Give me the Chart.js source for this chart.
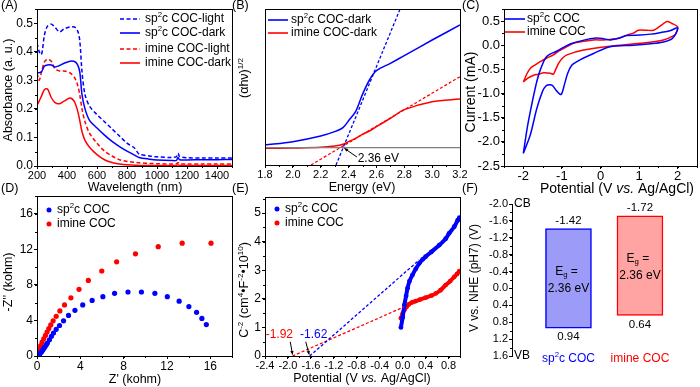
<!DOCTYPE html>
<html>
<head>
<meta charset="utf-8">
<script src="https://cdn.jsdelivr.net/npm/chart.js@4.4.0/dist/chart.umd.min.js"></script>
<style>
html, body { margin: 0; padding: 0; background: #fff; }
#wrap { position: relative; width: 700px; height: 387px; overflow: hidden; }
canvas { position: absolute; }
</style>
</head>
<body>
<div id="wrap">
  <canvas id="cA"></canvas>
  <canvas id="cB"></canvas>
  <canvas id="cC"></canvas>
  <canvas id="cD"></canvas>
  <canvas id="cE"></canvas>
  <canvas id="cF"></canvas>
</div>
<script>
const FF = '"Liberation Sans", Arial, Helvetica, sans-serif';
const BLUE = '#0000ff', RED = '#ff0000';

// (A) UV-vis absorbance
const uvWl =       [200, 215, 230, 250, 270, 295, 320, 350, 380, 420, 450, 470, 485, 500, 520, 550, 600, 650, 700, 750, 800, 850, 880, 950, 1000, 1100, 1130, 1140, 1150, 1200, 1300, 1400, 1500];
const uvSpLight =  [0.43, 0.40, 0.39, 0.46, 0.49, 0.497, 0.486, 0.47, 0.48, 0.487, 0.487, 0.475, 0.44, 0.33, 0.25, 0.21, 0.18, 0.155, 0.13, 0.105, 0.08, 0.063, 0.042, 0.035, 0.032, 0.03, 0.033, 0.045, 0.034, 0.029, 0.028, 0.028, 0.028];
const uvSpDark =   [0.327, 0.327, 0.33, 0.35, 0.354, 0.354, 0.347, 0.352, 0.36, 0.367, 0.366, 0.355, 0.33, 0.25, 0.2, 0.16, 0.133, 0.108, 0.086, 0.068, 0.052, 0.038, 0.03, 0.024, 0.021, 0.019, 0.02, 0.03, 0.022, 0.021, 0.022, 0.022, 0.023];
const uvImLight =  [0.325, 0.30, 0.33, 0.365, 0.374, 0.367, 0.34, 0.333, 0.333, 0.326, 0.31, 0.285, 0.25, 0.2, 0.155, 0.115, 0.08, 0.052, 0.035, 0.022, 0.016, 0.013, 0.011, 0.009, 0.008, 0.007, 0.008, 0.012, 0.008, 0.007, 0.007, 0.007, 0.007];
const uvImDark =   [0.213, 0.228, 0.245, 0.268, 0.27, 0.24, 0.222, 0.218, 0.227, 0.238, 0.225, 0.195, 0.16, 0.12, 0.09, 0.066, 0.04, 0.022, 0.012, 0.007, 0.004, 0.003, 0.002, 0.002, 0.002, 0.002, 0.002, 0.004, 0.002, 0.002, 0.002, 0.002, 0.002];
const uvXTicks = [200, 400, 600, 800, 1000, 1200, 1400];
const uvYTicks = [0, 0.1, 0.2, 0.3, 0.4, 0.5];

// (B) Tauc plot
const taucE =  [1.8, 2.0, 2.2, 2.3, 2.36, 2.4, 2.45, 2.5, 2.55, 2.6, 2.7, 2.8, 3.0, 3.2];
const taucSp = [0.6, 0.7, 0.87, 1.0, 1.12, 1.33, 1.6, 2.12, 2.55, 2.83, 3.05, 3.28, 3.75, 4.2];
const taucIm = [0.5, 0.51, 0.53, 0.57, 0.62, 0.7, 0.8, 0.92, 1.02, 1.15, 1.4, 1.66, 1.9, 1.98];
const taucSpFitE = [2.31, 2.77], taucSpFitY = [0, 4.68];
const taucImFitE = [2.13, 3.2], taucImFitY = [0, 2.65];
const taucBaseE = [1.8, 3.2], taucBaseY = [0.52, 0.52];
const taucXTicks = [1.8, 2.0, 2.2, 2.4, 2.6, 2.8, 3.0, 3.2];

// (C) cyclic voltammetry
const cvSpV = [-2.0, -1.9, -1.8, -1.73, -1.65, -1.56, -1.43, -1.32, -1.15, -1.04, -0.8, -0.61, -0.35, -0.12, 0.05, 0.25, 0.45, 0.68, 1.03, 1.3, 1.54, 1.8, 2.0, 1.96, 1.85, 1.6, 1.3, 0.85, 0.25, -0.18, -0.45, -0.61, -0.74, -0.85, -0.93, -1.02, -1.13, -1.25, -1.34, -1.42, -1.5, -1.65, -1.82, -2.0];
const cvSpI = [-2.24, -1.72, -1.3, -1.03, -0.75, -0.51, -0.27, -0.19, -0.13, -0.08, 0.02, 0.07, 0.12, 0.15, 0.14, 0.11, 0.14, 0.2, 0.21, 0.23, 0.26, 0.3, 0.36, 0.25, 0.13, 0.06, 0.03, 0.0, -0.03, -0.17, -0.27, -0.34, -0.41, -0.58, -0.8, -1.02, -0.95, -0.83, -0.82, -0.85, -0.95, -1.31, -1.86, -2.24];
const cvImV = [-2.0, -1.9, -1.82, -1.7, -1.56, -1.4, -1.22, -1.1, -0.96, -0.7, -0.45, -0.18, 0.05, 0.25, 0.5, 0.68, 0.85, 0.98, 1.2, 1.37, 1.55, 1.72, 1.85, 2.0, 1.96, 1.92, 1.63, 1.03, 0.25, -0.44, -0.87, -1.0, -1.09, -1.17, -1.22, -1.3, -1.47, -1.6, -1.73, -1.88, -2.0];
const cvImI = [-0.76, -0.58, -0.48, -0.41, -0.34, -0.27, -0.2, -0.13, -0.07, 0.04, 0.08, 0.11, 0.11, 0.12, 0.15, 0.21, 0.25, 0.31, 0.31, 0.31, 0.4, 0.49, 0.45, 0.38, 0.26, 0.21, 0.11, 0.04, -0.02, -0.1, -0.2, -0.28, -0.38, -0.52, -0.6, -0.58, -0.57, -0.6, -0.62, -0.68, -0.76];
const cvXTicks = [-2, -1, 0, 1, 2];
const cvYTicks = [-2.5, -2.0, -1.5, -1.0, -0.5, 0.0, 0.5];

// (D) Nyquist plot
const nySpX = [15.63, 15.22, 14.73, 14.02, 13.12, 12.03, 10.88, 9.64, 8.40, 7.16, 6.08, 5.09, 4.22, 3.50, 2.91, 2.45, 2.08, 1.77, 1.52, 1.33, 1.15, 0.96, 0.86, 0.75, 0.64, 0.54, 0.44, 0.35, 0.26, 0.18, 0.11];
const nySpY = [3.54, 4.23, 4.91, 5.56, 6.17, 6.67, 7.05, 7.2, 7.2, 7.05, 6.67, 6.25, 5.75, 5.14, 4.57, 3.96, 3.43, 3.0, 2.59, 2.21, 1.83, 1.45, 1.26, 1.07, 0.88, 0.69, 0.52, 0.38, 0.24, 0.11, 0.02];
const nyImX = [16.06, 13.40, 11.19, 9.09, 7.35, 5.98, 4.74, 3.88, 3.13, 2.54, 2.11, 1.77, 1.49, 1.27, 1.09, 0.93, 0.78, 0.62, 0.47, 0.34, 0.22, 0.12, 0.06];
const nyImY = [12.69, 12.69, 12.30, 11.50, 10.59, 9.56, 8.50, 7.50, 6.55, 5.75, 5.07, 4.46, 3.96, 3.50, 3.09, 2.70, 2.32, 1.94, 1.56, 1.18, 0.80, 0.42, 0.11];
const nyTicks = [0, 4, 8, 12, 16];

// (E) Mott-Schottky
const msSpV = [-0.03, 0.0, 0.03, 0.06, 0.085, 0.12, 0.17, 0.23, 0.29, 0.35, 0.4, 0.5, 0.64, 0.75, 0.81, 0.9, 0.96, 0.99];
const msSpC = [1.0, 1.35, 1.78, 2.1, 2.37, 2.62, 2.83, 3.05, 3.24, 3.38, 3.47, 3.64, 3.88, 4.1, 4.29, 4.52, 4.75, 4.84];
const msImV = [-0.03, 0.0, 0.03, 0.07, 0.11, 0.17, 0.23, 0.3, 0.4, 0.5, 0.58, 0.66, 0.75, 0.83, 0.9, 0.95, 0.99];
const msImC = [1.32, 1.48, 1.61, 1.72, 1.81, 1.88, 1.92, 1.97, 2.04, 2.11, 2.19, 2.3, 2.48, 2.62, 2.77, 2.87, 2.97];
const msSpFitV = [-1.62, 0.29], msSpFitC = [0, 3.36];
const msImFitV = [-1.92, 0.03], msImFitC = [0, 1.72];
const msXTicks = [-2.4, -2.0, -1.6, -1.2, -0.8, -0.4, 0, 0.4, 0.8];
const msYTicks = [0, 1, 2, 3, 4, 5];

// (F) band positions
const bandCB = [-1.42, -1.72];
const bandVB = [0.94, 0.64];
const bandGap = ['2.36 eV', '2.36 eV'];
const bandYTicks = [-2.0, -1.6, -1.2, -0.8, -0.4, 0, 0.4, 0.8, 1.2, 1.6];

function xy(xs, ys) { return xs.map((x, i) => ({ x: x, y: ys[i] })); }

// ---------- drawing helpers ----------
function rich(c, parts, x, y, size, opt) {
  opt = opt || {};
  const segs = parts.map(p => {
    if (p[0] === '^') return { t: p.slice(1), k: 1 };
    if (p[0] === '_') return { t: p.slice(1), k: -1 };
    if (p[0] === '~') return { t: p.slice(1), k: 2 };
    return { t: p, k: 0 };
  });
  const fontOf = s => (s.k === 2 ? 'italic ' : '') + (Math.abs(s.k) === 1 ? size * 0.65 : size) + 'px ' + FF;
  let w = 0;
  segs.forEach(s => { c.font = fontOf(s); s.w = c.measureText(s.t).width; w += s.w; });
  c.save();
  c.translate(x, y);
  if (opt.rot) c.rotate(opt.rot);
  let cx = opt.align === 'left' ? 0 : (opt.align === 'right' ? -w : -w / 2);
  c.fillStyle = opt.color || '#000';
  c.textBaseline = 'middle';
  c.textAlign = 'left';
  segs.forEach(s => {
    c.font = fontOf(s);
    const dy = s.k === 1 ? -size * 0.33 : (s.k === -1 ? size * 0.28 : 0);
    c.fillText(s.t, cx, dy);
    cx += s.w;
  });
  c.restore();
}

function frame(c, a) {
  c.strokeStyle = '#000'; c.lineWidth = 1;
  c.strokeRect(Math.round(a.left) + 0.5, Math.round(a.top) + 0.5, Math.round(a.right) - Math.round(a.left), Math.round(a.bottom) - Math.round(a.top));
}

function minors(c, s, off, a, step, horiz) {
  const n0 = Math.ceil(s.min / step - 1e-6), n1 = Math.floor(s.max / step + 1e-6);
  c.beginPath();
  for (let n = n0; n <= n1; n++) {
    const p = Math.round(s.getPixelForValue(n * step) + off) + 0.5;
    if (horiz) { c.moveTo(p, a.bottom); c.lineTo(p, a.bottom + 2); }
    else { c.moveTo(a.left, p); c.lineTo(a.left - 2, p); }
  }
  c.strokeStyle = '#000'; c.lineWidth = 1; c.stroke();
}

function legLine(c, x1, x2, y, color, dash) {
  c.save(); c.strokeStyle = color; c.lineWidth = 1.6; c.setLineDash(dash || []);
  c.beginPath(); c.moveTo(x1, y); c.lineTo(x2, y); c.stroke(); c.restore();
}

function legDot(c, x, y, color) {
  c.fillStyle = color; c.beginPath(); c.arc(x, y, 2.5, 0, Math.PI * 2); c.fill();
}

function arrow(c, x1, y1, x2, y2) {
  const ang = Math.atan2(y2 - y1, x2 - x1), h = 4;
  c.save(); c.strokeStyle = '#000'; c.fillStyle = '#000'; c.lineWidth = 1;
  c.beginPath(); c.moveTo(x1, y1); c.lineTo(x2, y2); c.stroke();
  c.beginPath(); c.moveTo(x2, y2);
  c.lineTo(x2 - h * Math.cos(ang - 0.45), y2 - h * Math.sin(ang - 0.45));
  c.lineTo(x2 - h * Math.cos(ang + 0.45), y2 - h * Math.sin(ang + 0.45));
  c.closePath(); c.fill(); c.restore();
}

function axis(min, max, ticks, digits, opt) {
  opt = opt || {};
  return {
    type: 'linear', min: min, max: max, reverse: !!opt.reverse, display: opt.display !== false,
    afterBuildTicks: s => { s.ticks = ticks.map(v => ({ value: v })); },
    ticks: {
      display: opt.labels !== false, autoSkip: false, maxRotation: 0, minRotation: 0,
      padding: opt.pad !== undefined ? opt.pad : 1, color: '#000',
      font: { family: FF, size: opt.size || 11 },
      callback: v => v.toFixed(digits)
    },
    grid: { display: opt.marks !== false, drawOnChartArea: false, drawTicks: true, tickLength: 3, color: '#000', lineWidth: 1 },
    border: { display: true, color: '#000', width: 1 }
  };
}

// box: canvas rect on the page [left, top, w, h]; plot: chart area on the page [L, T, R, B]
function build(id, box, plot, type, datasets, scales, draw) {
  const cv = document.getElementById(id);
  cv.style.left = box[0] + 'px'; cv.style.top = box[1] + 'px';
  cv.style.width = box[2] + 'px'; cv.style.height = box[3] + 'px';
  cv.width = box[2]; cv.height = box[3];
  const xH = box[1] + box[3] - plot[3], yW = plot[0] - box[0];
  if (scales.x.display !== false) scales.x.afterFit = s => { s.height = xH; };
  scales.y.afterFit = s => { s.width = yW; };
  return new Chart(cv, {
    type: type,
    data: { datasets: datasets },
    options: {
      responsive: false, animation: false, devicePixelRatio: 1,
      layout: { padding: { left: 0, top: plot[1] - box[1], right: box[0] + box[2] - plot[2], bottom: scales.x.display === false ? box[1] + box[3] - plot[3] : 0 } },
      plugins: { legend: { display: false }, tooltip: { enabled: false } },
      elements: { point: { radius: 0 } },
      scales: scales
    },
    plugins: [{
      id: 'decor',
      afterDraw(ch) {
        const c = ch.ctx, ca = ch.chartArea;
        const a = { left: ca.left + box[0], right: ca.right + box[0], top: ca.top + box[1], bottom: ca.bottom + box[1] };
        const X = v => ch.scales.x.getPixelForValue(v) + box[0];
        const Y = v => ch.scales.y.getPixelForValue(v) + box[1];
        c.save(); c.translate(-box[0], -box[1]);
        draw(c, ch, a, X, Y, box);
        c.restore();
      }
    }]
  });
}

function lineSet(data, color, dash, width) {
  return { data: data, showLine: true, borderColor: color, backgroundColor: color, borderWidth: width || 1.5, borderDash: dash || [], pointRadius: 0, tension: 0.3 };
}

const T = 12.5; // title font size

// ---------- (A) ----------
build('cA', [0, 0, 236, 200], [37, 9, 232, 166], 'scatter', [
  lineSet(xy(uvWl, uvSpLight), BLUE, [4, 2.5]),
  lineSet(xy(uvWl, uvSpDark), BLUE),
  lineSet(xy(uvWl, uvImLight), RED, [4, 2.5]),
  lineSet(xy(uvWl, uvImDark), RED)
], {
  x: axis(200, 1500, uvXTicks, 0, { pad: 0 }),
  y: axis(0, 0.55, uvYTicks, 1, { size: 12 })
}, (c, ch, a, X, Y, box) => {
  frame(c, a);
  minors(c, ch.scales.x, box[0], a, 100, true);
  minors(c, ch.scales.y, box[1], a, 0.05, false);
  rich(c, ['(A)'], 1, 6, T, { align: 'left' });
  rich(c, ['Wavelength (nm)'], 135, 188, T);
  rich(c, ['Absorbance (a. u.)'], 9, 90, T, { rot: -Math.PI / 2 });
  const rows = [[19, BLUE, [4, 2.5], ['sp', '^2', 'c COC-light']], [33, BLUE, null, ['sp', '^2', 'c COC-dark']],
                [49, RED, [4, 2.5], ['imine COC-light']], [63, RED, null, ['imine COC-dark']]];
  rows.forEach(r => { legLine(c, 120, 140, r[0], r[1], r[2]); rich(c, r[3], 145, r[0], 12, { align: 'left' }); });
});

// ---------- (B) ----------
build('cB', [232, 0, 240, 200], [265, 9, 460, 165], 'scatter', [
  lineSet(xy(taucBaseE, taucBaseY), '#808080', null, 1.2),
  lineSet(xy(taucSpFitE, taucSpFitY), BLUE, [3, 2], 1.3),
  lineSet(xy(taucImFitE, taucImFitY), RED, [3, 2], 1.3),
  lineSet(xy(taucE, taucSp), BLUE),
  lineSet(xy(taucE, taucIm), RED)
], {
  x: axis(1.8, 3.2, taucXTicks, 1, { pad: 0 }),
  y: axis(0, 4.68, [], 0, { labels: false, marks: false })
}, (c, ch, a, X, Y, box) => {
  frame(c, a);
  minors(c, ch.scales.x, box[0], a, 0.1, true);
  rich(c, ['(B)'], 232, 6, T, { align: 'left' });
  rich(c, ['Energy (eV)'], 362, 188, T);
  rich(c, ['(αhν)', '^1/2'], 245, 78, T, { rot: -Math.PI / 2 });
  legLine(c, 268, 288, 20, BLUE); rich(c, ['sp', '^2', 'c COC-dark'], 291, 20, 12, { align: 'left' });
  legLine(c, 268, 288, 33, RED); rich(c, ['imine COC-dark'], 291, 33, 12, { align: 'left' });
  arrow(c, X(2.46), Y(0.24), X(2.37), Y(0.5));
  rich(c, ['2.36 eV'], X(2.465), Y(0.2), 12, { align: 'left' });
});

// ---------- (C) ----------
build('cC', [460, 0, 240, 200], [504, 9, 697, 166], 'scatter', [
  lineSet(xy(cvSpV, cvSpI), BLUE, null, 1.5),
  lineSet(xy(cvImV, cvImI), RED, null, 1.5)
], {
  x: axis(-2.5, 2.5, cvXTicks, 0, { size: 13, pad: 0 }),
  y: axis(-2.5, 0.75, cvYTicks, 1, { size: 13 })
}, (c, ch, a, X, Y, box) => {
  frame(c, a);
  minors(c, ch.scales.x, box[0], a, 0.5, true);
  minors(c, ch.scales.y, box[1], a, 0.25, false);
  rich(c, ['(C)'], 462, 6, T, { align: 'left' });
  rich(c, ['Potential (V ', '~vs.', ' Ag/AgCl)'], 617, 189, 14);
  rich(c, ['Current (mA)'], 471, 92, 14, { rot: -Math.PI / 2 });
  legLine(c, 505, 525, 19, BLUE); rich(c, ['sp', '^2', 'c COC'], 527, 19, 12, { align: 'left' });
  legLine(c, 505, 525, 32, RED); rich(c, ['imine COC'], 527, 32, 12, { align: 'left' });
});

// ---------- (D) ----------
function dots(data, color) {
  return { data: data, showLine: false, pointRadius: 2.6, pointBorderWidth: 0, backgroundColor: color, borderColor: color };
}
build('cD', [0, 180, 236, 207], [37, 196, 232, 356], 'scatter', [
  dots(xy(nySpX, nySpY), BLUE),
  dots(xy(nyImX, nyImY), RED)
], {
  x: axis(0, 18, nyTicks, 0, { size: 12, pad: 0 }),
  y: axis(0, 18, nyTicks, 0, { size: 12 })
}, (c, ch, a, X, Y, box) => {
  frame(c, a);
  minors(c, ch.scales.x, box[0], a, 2, true);
  minors(c, ch.scales.y, box[1], a, 2, false);
  rich(c, ['(D)'], 1, 189, T, { align: 'left' });
  rich(c, ["Z' (kohm)"], 135, 380, T);
  rich(c, ["-Z'' (kohm)"], 9, 282, T, { rot: -Math.PI / 2 });
  legDot(c, 49, 210, BLUE); rich(c, ['sp', '^2', 'c COC'], 57, 210, 12, { align: 'left' });
  legDot(c, 49, 224, RED); rich(c, ['imine COC'], 57, 224, 12, { align: 'left' });
});

// ---------- (E) ----------
function band(data, color) {
  return { data: data, showLine: true, borderColor: color, backgroundColor: color, borderWidth: 4, pointRadius: 2.4, pointBorderWidth: 0, tension: 0.3 };
}
build('cE', [232, 180, 240, 207], [265, 197, 460, 356], 'scatter', [
  lineSet(xy(msSpFitV, msSpFitC), BLUE, [3, 2], 1.3),
  lineSet(xy(msImFitV, msImFitC), RED, [3, 2], 1.3),
  band(xy(msSpV, msSpC), BLUE),
  band(xy(msImV, msImC), RED)
], {
  x: axis(-2.4, 1.0, msXTicks, 1, { pad: 0 }),
  y: axis(0, 5.56, msYTicks, 0, { size: 12 })
}, (c, ch, a, X, Y, box) => {
  frame(c, a);
  minors(c, ch.scales.x, box[0], a, 0.2, true);
  minors(c, ch.scales.y, box[1], a, 0.5, false);
  rich(c, ['(E)'], 232, 189, T, { align: 'left' });
  rich(c, ['Potential (V ', '~vs.', ' Ag/AgCl)'], 362, 379, T);
  rich(c, ['C', '^-2', ' (cm', '^4', '•F', '^-2', '•10', '^10', ')'], 245, 290, T, { rot: -Math.PI / 2 });
  legDot(c, 277, 209, BLUE); rich(c, ['sp', '^2', 'c COC'], 285, 209, 12, { align: 'left' });
  legDot(c, 277, 223, RED); rich(c, ['imine COC'], 285, 223, 12, { align: 'left' });
  rich(c, ['-1.92'], X(-2.15), Y(0.73), 12, { color: RED });
  rich(c, ['-1.62'], X(-1.55), Y(0.73), 12, { color: BLUE });
  arrow(c, X(-1.96), Y(0.5), X(-1.92), Y(0.05));
  arrow(c, X(-1.69), Y(0.5), X(-1.63), Y(0.05));
});

// ---------- (F) ----------
build('cF', [460, 180, 240, 207], [512, 204, 700, 356], 'bar', [{
  data: bandCB.map((v, i) => ({ x: i, y: [v, bandVB[i]] })),
  backgroundColor: ['#9c9cf8', '#ffa3a3'],
  borderColor: [BLUE, RED],
  borderWidth: 1.5,
  borderSkipped: false,
  barThickness: 46
}], {
  x: { type: 'linear', min: -0.79, max: 1.84, offset: false, display: false },
  y: axis(-2.0, 1.6, bandYTicks, 1, { reverse: true })
}, (c, ch, a, X, Y, box) => {
  minors(c, ch.scales.y, box[1], a, 0.2, false);
  rich(c, ['(F)'], 462, 189, T, { align: 'left' });
  rich(c, ['V vs. NHE (pH7) (V)'], 475, 278, 12, { rot: -Math.PI / 2 });
  rich(c, ['CB'], 514, Y(-2.0), 12, { align: 'left' });
  rich(c, ['VB'], 514, Y(1.6), 12, { align: 'left' });
  const colors = [BLUE, RED];
  const names = [['sp', '^2', 'c COC'], ['imine COC']];
  bandCB.forEach((cb, i) => {
    const cx = X(i), mid = (Y(cb) + Y(bandVB[i])) / 2;
    rich(c, [cb.toFixed(2)], cx, Y(cb) - 8, 11.5);
    rich(c, [bandVB[i].toFixed(2)], cx, Y(bandVB[i]) + 9, 11.5);
    rich(c, ['E', '_g', ' ='], cx - 2, mid - 7, 12);
    rich(c, [bandGap[i]], cx, mid + 10, 12);
    rich(c, names[i], cx, 359, 12, { color: colors[i] });
  });
});
</script>
</body>
</html>
